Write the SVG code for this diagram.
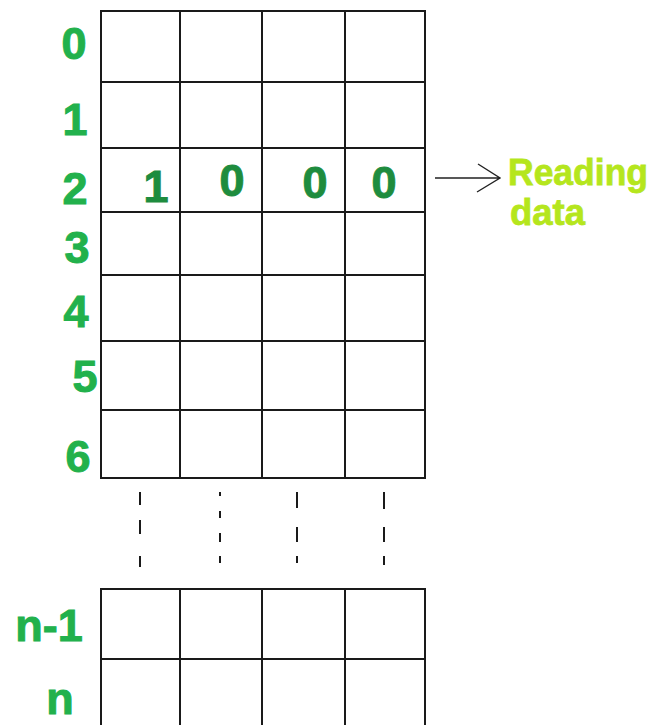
<svg xmlns="http://www.w3.org/2000/svg" width="668" height="725" viewBox="0 0 668 725">
<style>
.g{stroke:#1a1a1a;stroke-width:2;fill:none}
.d{stroke:#1a1a1a;stroke-width:2;fill:none}
.lbl{font-family:"Liberation Sans",Arial,sans-serif;font-weight:bold;font-size:45px;fill:#22b14c;stroke:#22b14c;stroke-width:1}
.val{font-family:"Liberation Sans",Arial,sans-serif;font-weight:bold;font-size:45px;fill:#1e8c3e;stroke:#1e8c3e;stroke-width:1}
.rd{font-family:"Liberation Sans",Arial,sans-serif;font-weight:bold;font-size:37px;fill:#b5e61d;stroke:#b5e61d;stroke-width:0.8}
.ar{stroke:#222;stroke-width:1.4;fill:none}
</style>
<rect width="668" height="725" fill="#fff"/>
<g id="grid-top">
<rect class="g" x="101" y="11" width="324" height="467"/>
<path class="g" d="M180 11V478M262 11V478M345 11V478M101 82H425M101 148H425M101 212H425M101 275H425M101 341H425M101 410H425"/>
</g>
<g id="grid-bottom">
<path class="g" d="M101 726V589H425V726M180 589V726M262 589V726M345 589V726M101 659H425"/>
</g>
<g id="ellipsis">
<path class="d" d="M140 492V505M140 520V534M140 556V567"/>
<path class="d" d="M220 492V496M220 511V518M220 533V542M220 556V563"/>
<path class="d" d="M297 492V508M297 527V542M297 556V563"/>
<path class="d" d="M384 492V509M384 527V542M384 556V565"/>
</g>
<g id="row-labels">
<text class="lbl" x="74" y="59" text-anchor="middle">0</text>
<text class="lbl" x="75" y="135" text-anchor="middle">1</text>
<text class="lbl" x="75" y="204" text-anchor="middle">2</text>
<text class="lbl" x="77" y="263" text-anchor="middle">3</text>
<text class="lbl" x="76" y="327" text-anchor="middle">4</text>
<text class="lbl" x="85" y="392" text-anchor="middle">5</text>
<text class="lbl" x="78" y="472" text-anchor="middle">6</text>
<text class="lbl" x="49" y="641" text-anchor="middle">n-1</text>
<text class="lbl" x="60" y="714" text-anchor="middle">n</text>
</g>
<g id="row2-values">
<text class="val" x="156" y="202" text-anchor="middle">1</text>
<text class="val" x="232" y="196" text-anchor="middle">0</text>
<text class="val" x="315" y="198" text-anchor="middle">0</text>
<text class="val" x="384" y="198" text-anchor="middle">0</text>
</g>
<g id="connectors">
<path class="ar" d="M435 178H500M478 164L500 178L477 192"/>
</g>
<g id="reading-data">
<text class="rd" x="508" y="185" textLength="140" lengthAdjust="spacingAndGlyphs">Reading</text>
<text class="rd" x="510" y="225" textLength="75" lengthAdjust="spacingAndGlyphs">data</text>
</g>
</svg>
